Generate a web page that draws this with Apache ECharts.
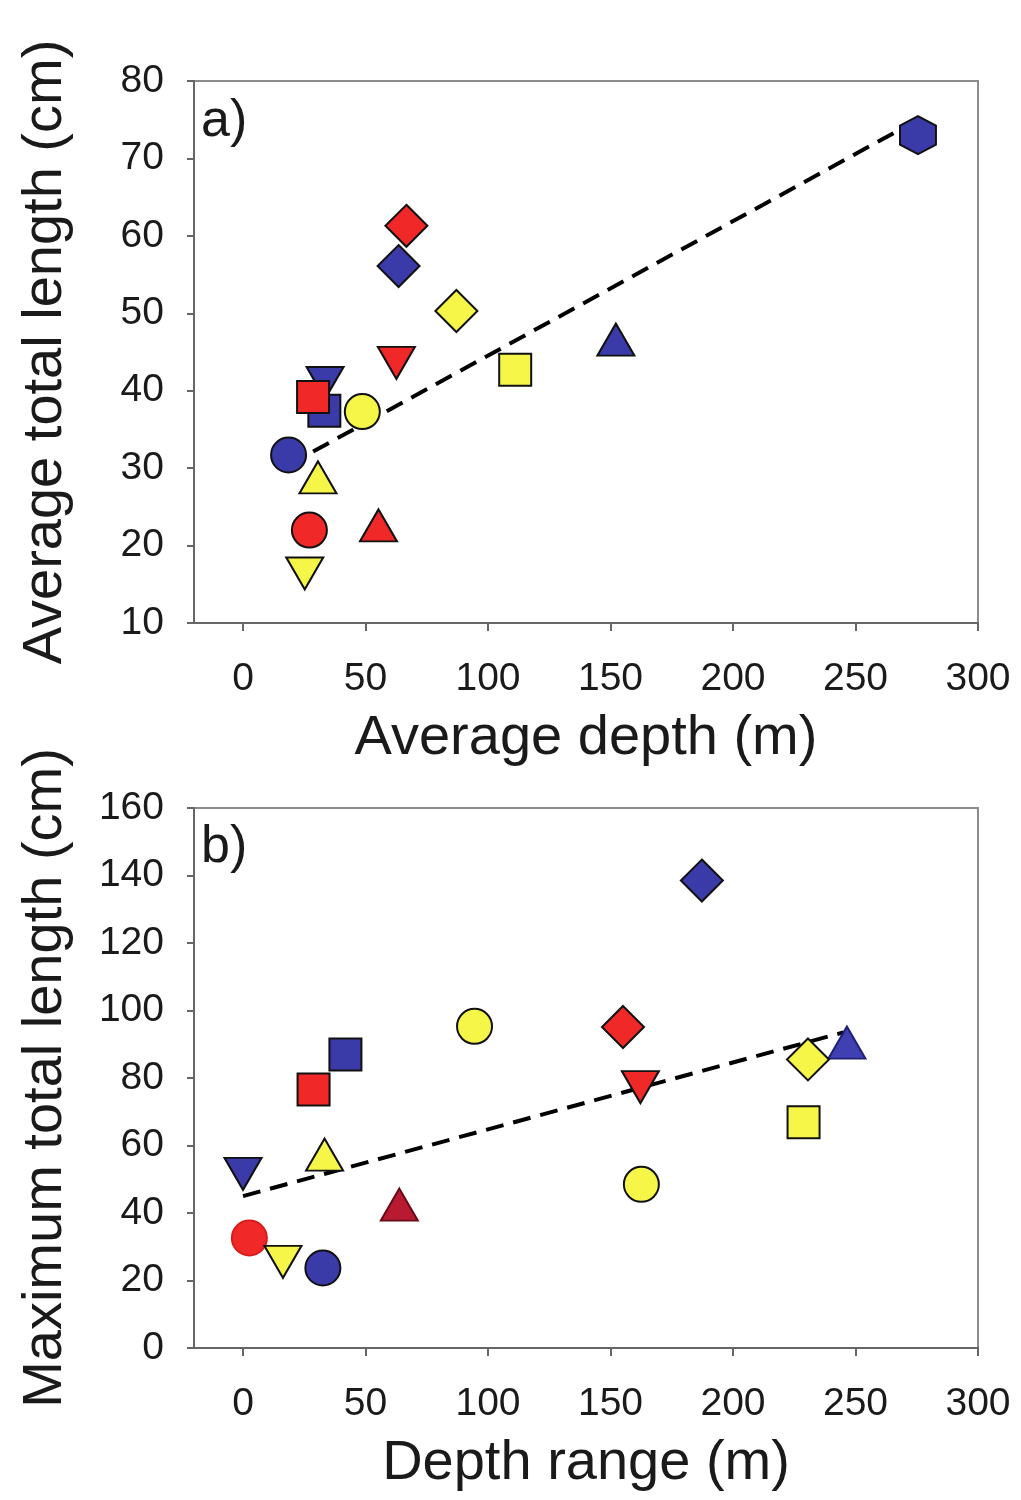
<!DOCTYPE html>
<html><head><meta charset="utf-8">
<script src="https://cdn.jsdelivr.net/npm/echarts@6/dist/echarts.min.js"></script>
<style>html,body{margin:0;padding:0;background:#fff}#c{width:1021px;height:1500px}</style>
</head><body><div id="c"></div>
<script>
// ---------- data ----------
const xTickValues = [0, 50, 100, 150, 200, 250, 300];

// panel a: average depth vs average total length
const speciesA = ['B-circle','B-square','B-down','B-up','B-diamond','B-hex',
                  'R-circle','R-square','R-down','R-up','R-diamond',
                  'Y-circle','Y-square','Y-down','Y-up','Y-diamond'];
const avgDepthA = [18.6, 33.2, 33.5, 152.2, 63.5, 275.5,
                   27.1, 28.6, 62.6, 55.3, 66.7,
                   48.7, 111.1, 25.2, 30.6, 87.1];
const avgLengthA = [31.7, 37.4, 41.0, 46.6, 56.1, 73.0,
                    22.0, 39.2, 43.6, 22.6, 61.3,
                    37.3, 42.7, 16.4, 28.8, 50.3];
const fitA_x = [18.6, 275.5];
const fitA_y = [30.4, 75.0];

// panel b: depth range vs maximum total length
const speciesB = ['B-circle','B-square','B-down','B-up-h','B-diamond',
                  'R-circle-s','R-square','R-down','R-up-h','R-diamond',
                  'Y-circle','Y-circle','Y-square','Y-down','Y-up','Y-diamond'];
const depthRangeB = [32.6, 41.8, 0, 246.5, 187.3,
                     2.6, 28.8, 162.2, 63.8, 155.1,
                     94.5, 162.6, 228.8, 16.3, 33.3, 230.6];
const maxLengthB = [23.7, 87.0, 51.6, 90.5, 138.5,
                    32.6, 76.6, 77.3, 42.5, 95.1,
                    95.3, 48.5, 66.9, 25.5, 57.3, 85.5];
const fitB_x = [0, 245];
const fitB_y = [45.0, 93.5];

// ---------- styles ----------
const fillColors = { B: '#3a3aa8', R: '#f02828', Y: '#f6f648' };
const hatchFill = { B: '#4040b2', R: '#b81a32' };
const hatchBorder = { B: '#20207a', R: '#6a0c18' };
const hexPath = 'path://M0,-1L0.866,-0.5L0.866,0.5L0,1L-0.866,0.5L-0.866,-0.5Z';
const shapeDef = {
  circle:  { symbol: 'circle',   size: [35, 35], rot: 0 },
  square:  { symbol: 'rect',     size: [32, 32], rot: 0 },
  up:      { symbol: 'triangle', size: [37, 32], rot: 0 },
  down:    { symbol: 'triangle', size: [37, 32], rot: 180 },
  diamond: { symbol: 'diamond',  size: [42, 42], rot: 0 },
  hex:     { symbol: hexPath,    size: [36, 38], rot: 0 }
};

function buildPoints(species, xs, ys) {
  return species.map((sp, i) => {
    const parts = sp.split('-');
    const col = parts[0], shp = shapeDef[parts[1]], variant = parts[2];
    const style = { color: fillColors[col], borderColor: '#111', borderWidth: 2, opacity: 1 };
    if (variant === 'h') {
      style.color = hatchFill[col];
      style.borderColor = hatchBorder[col];
      style.decal = { symbol: 'rect', symbolSize: 1, dashArrayX: [[1, 0]], dashArrayY: [2, 5],
                      rotation: -Math.PI / 5, color: 'rgba(255,255,255,0.4)' };
    } else if (variant === 's') {
      style.borderColor = '#d81c1c';
      style.decal = { symbol: 'circle', symbolSize: 0.5, dashArrayX: [[2, 5]], dashArrayY: [2, 5],
                      color: 'rgba(255,200,200,0.5)' };
    }
    return { value: [xs[i], ys[i]], symbol: shp.symbol, symbolSize: shp.size,
             symbolRotate: shp.rot, itemStyle: style };
  });
}

const FONT = "'Liberation Sans', Arial, sans-serif";
const tickLabel = { fontSize: 39, color: '#1a1a1a', fontFamily: FONT };
const nameStyle = { fontSize: 56, color: '#1a1a1a', fontFamily: FONT };
const axisLineStyle = { lineStyle: { color: '#666', width: 2 } };

function xAxisCfg(idx, name) {
  return {
    type: 'value', gridIndex: idx, min: -20, max: 300,
    name: name, nameLocation: 'middle', nameGap: 88, nameTextStyle: nameStyle,
    axisLine: { show: true, onZero: false, ...axisLineStyle },
    axisTick: { show: true, length: 8, inside: false, customValues: xTickValues, lineStyle: { color: '#666', width: 2 } },
    axisLabel: { ...tickLabel, margin: 37, customValues: xTickValues },
    splitLine: { show: false }
  };
}
function yAxisCfg(idx, name, min, max, interval) {
  return {
    type: 'value', gridIndex: idx, min: min, max: max, interval: interval,
    name: name, nameLocation: 'middle', nameGap: 120, nameTextStyle: nameStyle,
    axisLine: { show: true, onZero: false, ...axisLineStyle },
    axisTick: { show: true, length: 7, inside: false, lineStyle: { color: '#666', width: 2 } },
    axisLabel: { ...tickLabel, margin: 30 },
    splitLine: { show: false }
  };
}
function fitLine(xs, ys) { return xs.map((x, i) => [x, ys[i]]); }

const chart = echarts.init(document.getElementById('c'), null, { renderer: 'canvas' });
chart.setOption({
  animation: false,
  backgroundColor: '#fff',
  grid: [
    { left: 194, right: 43, top: 81, height: 542, show: true, borderColor: '#8c8c8c', borderWidth: 2, backgroundColor: 'transparent' },
    { left: 194, right: 43, top: 808, height: 540, show: true, borderColor: '#8c8c8c', borderWidth: 2, backgroundColor: 'transparent' }
  ],
  xAxis: [ xAxisCfg(0, 'Average depth (m)'), xAxisCfg(1, 'Depth range (m)') ],
  yAxis: [ yAxisCfg(0, 'Average total length (cm)', 10, 80, 10),
           yAxisCfg(1, 'Maximum total length (cm)', 0, 160, 20) ],
  graphic: [
    { type: 'text', left: 201, top: 96, style: { text: 'a)', fontSize: 52, fill: '#1a1a1a', fontFamily: FONT } },
    { type: 'text', left: 201, top: 822, style: { text: 'b)', fontSize: 52, fill: '#1a1a1a', fontFamily: FONT } }
  ],
  series: [
    { type: 'line', xAxisIndex: 0, yAxisIndex: 0, data: fitLine(fitA_x, fitA_y), symbol: 'none', z: 1,
      lineStyle: { color: '#000', width: 4, type: [18, 10] } },
    { type: 'line', xAxisIndex: 1, yAxisIndex: 1, data: fitLine(fitB_x, fitB_y), symbol: 'none', z: 1,
      lineStyle: { color: '#000', width: 4, type: [18, 10] } },
    { type: 'scatter', xAxisIndex: 0, yAxisIndex: 0, z: 3, data: buildPoints(speciesA, avgDepthA, avgLengthA) },
    { type: 'scatter', xAxisIndex: 1, yAxisIndex: 1, z: 3, data: buildPoints(speciesB, depthRangeB, maxLengthB) }
  ]
});
</script>
</body></html>
